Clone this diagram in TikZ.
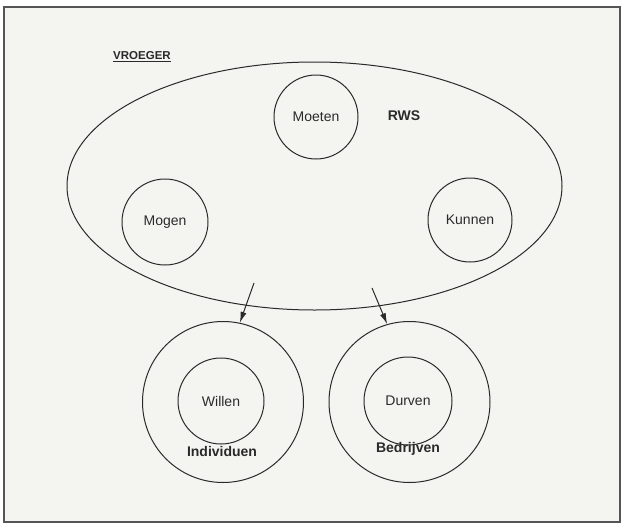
\documentclass[tikz,border=0pt]{standalone}
\usepackage{fontspec}
\setmainfont{Liberation Sans}
\usetikzlibrary{positioning,arrows.meta,shapes.geometric}
\definecolor{paper}{HTML}{F4F4F1}
\definecolor{ink}{HTML}{2A2A2A}

\begin{document}
\begin{tikzpicture}[x=1pt, y=-1pt,
  ring/.style={draw=ink, circle, line width=1pt, inner sep=0pt},
  word/.style={font=\fontsize{14}{16}\selectfont, text=ink},
  tag/.style={font=\fontsize{14}{16}\selectfont\bfseries, text=ink},
  arrow/.style={-{Latex[length=11pt,width=6pt]}, draw=ink, line width=1pt}
]
  \useasboundingbox (0,0) rectangle (624,525);
  \fill[white] (0,0) rectangle (624,525);
  \draw[draw=ink!80, fill=paper, line width=1.3pt] (4,7) rectangle (620,522);

  \node[font=\fontsize{11.5}{13}\selectfont\bfseries, text=ink] (title) at (142,57) {\underline{VROEGER}};

  % the big RWS ellipse with its three circles
  \node[draw=ink, ellipse, line width=1pt, minimum width=495pt, minimum height=248pt] (rws) at (314.5,186) {};
  \node[tag] (rwslabel) at (404,116) {RWS};
  \node[ring, word, minimum size=84pt] (moeten) at (316,117) {Moeten};
  \node[ring, word, minimum size=86pt] (mogen) at (165,222) {Mogen};
  \node[ring, word, minimum size=84pt] (kunnen) at (470,220) {Kunnen};

  % the two groups below
  \node[ring, minimum size=161pt] (indiv) at (223,402) {};
  \node[ring, word, minimum size=86pt] (willen) at (221,401) {Willen};
  \node[tag] (indivlabel) at (222,451) {Individuen};

  \node[ring, minimum size=161pt] (bedr) at (409.5,402) {};
  \node[ring, word, minimum size=88pt] (durven) at (408,401) {Durven};
  \node[tag] (bedrlabel) at (408,449) {Bedrijven};

  \coordinate (fromL) at (254,283);
  \coordinate (fromR) at (372,288);
  \draw[arrow] (fromL) -- (indiv.78);
  \draw[arrow] (fromR) -- (bedr.106);
\end{tikzpicture}
\end{document}
